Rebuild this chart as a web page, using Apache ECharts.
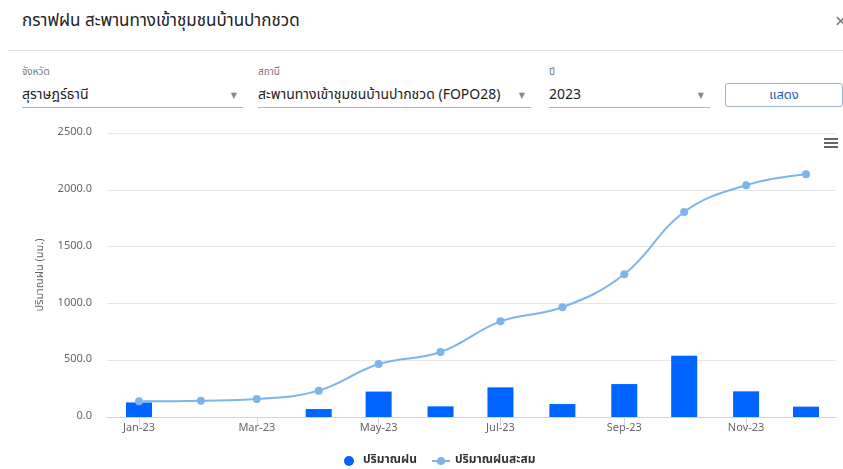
<!DOCTYPE html>
<html>
<head>
<meta charset="utf-8">
<script src="https://cdn.jsdelivr.net/npm/echarts@6/dist/echarts.min.js"></script>
<style>
  body { margin: 0; width: 843px; height: 469px; overflow: hidden; background: #fff;
         font-family: "Noto Sans Thai", "Noto Sans", "DejaVu Sans", sans-serif; position: relative; }
  .title { position: absolute; left: 22px; top: 8px; font-size: 17px; color: #222; }
  .close { position: absolute; left: 835px; top: 7px; font-size: 20px; color: #777; }
  .sep { position: absolute; left: 8px; right: 0; top: 50px; border-top: 1px solid #e3e3e3; }
  .lbl { position: absolute; top: 64px; font-size: 10px; color: #777; }
  .sel { position: absolute; top: 84px; height: 23px; border-bottom: 1px solid #b5b5b5;
         font-size: 14px; color: #222; line-height: 22px; }
  .arrow { position: absolute; right: 6px; top: 1px; font-size: 8px; color: #888; }
  .btn { position: absolute; left: 725px; top: 83px; width: 118px; height: 24px; border: 1px solid #9fb3c8;
         border-radius: 3px; box-sizing: border-box; text-align: center; font-size: 13px; color: #2b5aa8; line-height: 22px; }
  #chart { position: absolute; left: 0; top: 120px; width: 843px; height: 349px; }
</style>
</head>
<body>
<div class="title">กราฟฝน สะพานทางเข้าชุมชนบ้านปากชวด</div>
<div class="close">×</div>
<div class="sep"></div>
<div class="lbl" style="left:22px">จังหวัด</div>
<div class="lbl" style="left:258px">สถานี</div>
<div class="lbl" style="left:549px">ปี</div>
<div class="sel" style="left:22px;width:221px">สุราษฎร์ธานี<span class="arrow">▼</span></div>
<div class="sel" style="left:258px;width:273px">สะพานทางเข้าชุมชนบ้านปากชวด (FOPO28)<span class="arrow">▼</span></div>
<div class="sel" style="left:549px;width:161px">2023<span class="arrow">▼</span></div>
<div class="btn">แสดง</div>
<div id="chart"></div>
<script>
// month start dates (x values)
const months = ['2023-01-01', '2023-02-01', '2023-03-01', '2023-04-01', '2023-05-01', '2023-06-01',
  '2023-07-01', '2023-08-01', '2023-09-01', '2023-10-01', '2023-11-01', '2023-12-01']
// monthly rainfall (mm)
const rain = [128, 0, 0, 70, 224, 94, 261, 114, 290, 540, 226, 91]
// accumulated rainfall (mm)
const rainSum = [138, 144, 158, 232, 466, 572, 842, 966, 1256, 1805, 2040, 2136]
const monthNames = ['Jan', 'Feb', 'Mar', 'Apr', 'May', 'Jun', 'Jul', 'Aug', 'Sep', 'Oct', 'Nov', 'Dec']

const font = '"Noto Sans Thai", "Noto Sans", "DejaVu Sans", sans-serif'
const chart = echarts.init(document.getElementById('chart'))
const DAY = 86400000
// echarts widens a time axis by half a bar on each side; pull the range in so
// the visible span is mid-Dec 2022 .. mid-Dec 2023
const pad = 6.5 * DAY

const option = {
  animation: false,
  textStyle: { fontFamily: font },
  grid: { left: 107, right: 7, top: 13, bottom: 52 },
  legend: {
    bottom: -3,
    left: 339,
    itemGap: 14,
    itemWidth: 18,
    itemHeight: 10,
    textStyle: { fontSize: 12, fontWeight: 'bold', color: '#333', fontFamily: font },
    data: [
      { name: 'ปริมาณฝน', icon: 'circle' },
      { name: 'ปริมาณฝนสะสม' }
    ]
  },
  xAxis: {
    type: 'time',
    min: new Date(2022, 11, 16).getTime() + pad,
    max: new Date(2023, 11, 16).getTime() - pad,
    minInterval: 65 * DAY,
    maxInterval: 65 * DAY,
    axisLine: { lineStyle: { color: '#ccd6eb' } },
    axisTick: { show: true, length: 9, lineStyle: { color: '#ccd6eb' } },
    splitLine: { show: false },
    axisLabel: {
      color: '#666', fontSize: 11, margin: 6, showMinLabel: false, showMaxLabel: false,
      formatter: v => {
        const d = new Date(v)
        return monthNames[d.getMonth()] + '-' + String(d.getFullYear()).slice(2)
      }
    }
  },
  yAxis: {
    type: 'value',
    min: 0,
    max: 2500,
    interval: 500,
    name: 'ปริมาณฝน (มม.)',
    nameLocation: 'middle',
    nameGap: 60,
    nameTextStyle: { color: '#666', fontSize: 11 },
    axisLabel: { color: '#666', fontSize: 11, margin: 15, formatter: v => v.toFixed(1) },
    splitLine: { lineStyle: { color: '#e6e6e6' } }
  },
  series: [
    {
      name: 'ปริมาณฝน',
      type: 'bar',
      barWidth: 26,
      itemStyle: { color: '#0064ff' },
      data: months.map((m, i) => [m, rain[i]])
    },
    {
      name: 'ปริมาณฝนสะสม',
      type: 'line',
      smooth: 0.4,
      symbol: 'circle',
      symbolSize: 8,
      itemStyle: { color: '#7cb5ec' },
      lineStyle: { width: 2, color: '#7cb5ec' },
      data: months.map((m, i) => [m, rainSum[i]])
    }
  ],
  graphic: [
    { type: 'rect', left: 824, top: 18, shape: { width: 14, height: 2 }, style: { fill: '#666' } },
    { type: 'rect', left: 824, top: 22, shape: { width: 14, height: 2 }, style: { fill: '#666' } },
    { type: 'rect', left: 824, top: 26, shape: { width: 14, height: 2 }, style: { fill: '#666' } }
  ]
}

chart.setOption(option)
</script>
</body>
</html>
